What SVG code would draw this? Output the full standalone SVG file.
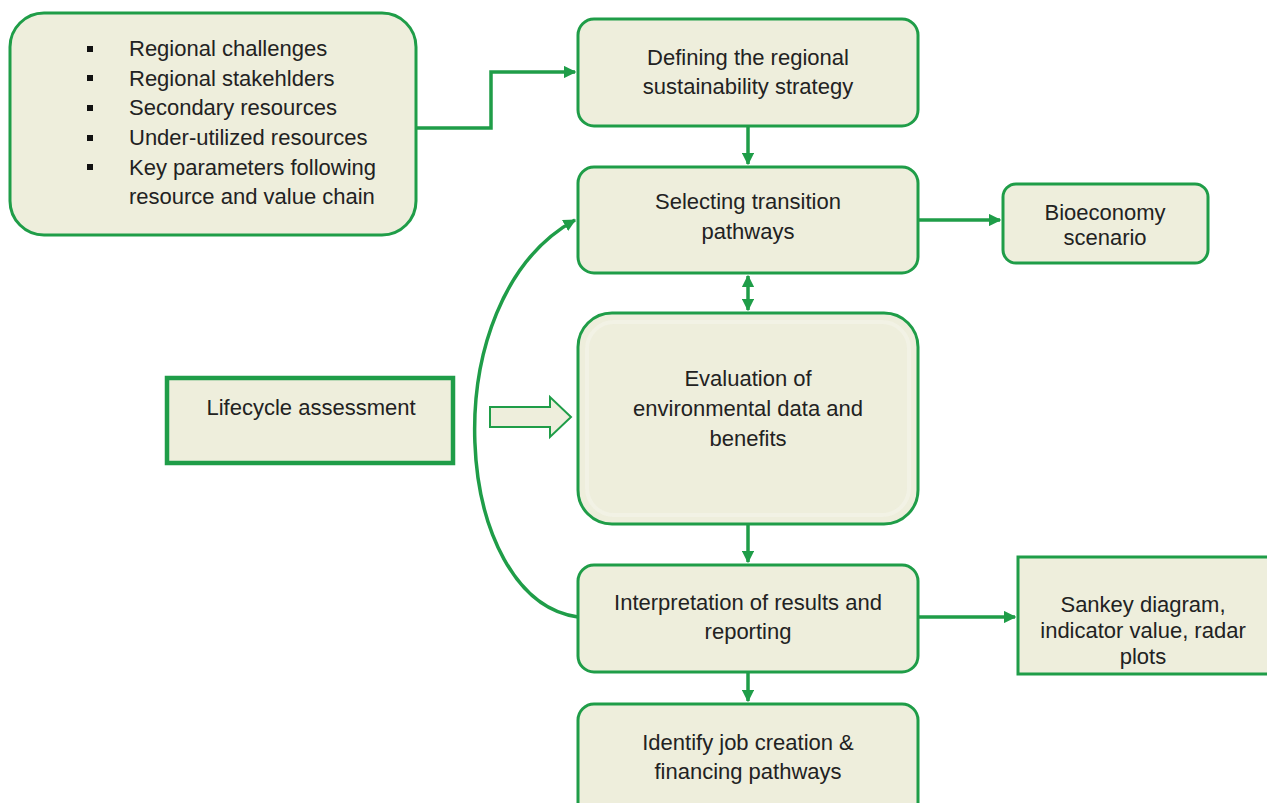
<svg xmlns="http://www.w3.org/2000/svg" width="1267" height="803" viewBox="0 0 1267 803">
  <defs>
    <style>
      .box { fill: #eeeedc; stroke: #1f9d48; stroke-width: 3; }
      .sq { fill: #eeeedc; stroke: #1f9d48; stroke-width: 4.5; }
      .lbl { font-family: "Liberation Sans", Arial, sans-serif; font-size: 22px; fill: #222; }
      .mid { text-anchor: middle; }
      .wire { fill: none; stroke: #1f9d48; stroke-width: 3.5; }
      .bullet { fill: #111; }
    </style>
    <marker id="head" viewBox="0 0 10 10" refX="9" refY="5" markerWidth="3.6" markerHeight="3.6" orient="auto-start-reverse" markerUnits="strokeWidth">
      <path d="M0,0 L10,5 L0,10 Z" fill="#1f9d48"/>
    </marker>
  </defs>

  <rect width="1267" height="803" fill="#ffffff"/>

  <!-- connectors -->
  <g id="connectors">
    <path class="wire" d="M416,128 H491 V72 H575" marker-end="url(#head)"/>
    <path class="wire" d="M748,126 V164" marker-end="url(#head)"/>
    <path class="wire" d="M748,276 V310" marker-start="url(#head)" marker-end="url(#head)"/>
    <path class="wire" d="M918,220 H1000" marker-end="url(#head)"/>
    <path class="wire" d="M748,524 V562" marker-end="url(#head)"/>
    <path class="wire" d="M918,617 H1015" marker-end="url(#head)"/>
    <path class="wire" d="M748,672 V701" marker-end="url(#head)"/>
    <path class="wire" d="M578,617 C452,600 430,300 575,220" marker-end="url(#head)"/>
    <!-- hollow block arrow toward the evaluation step -->
    <path d="M490,407 H550 V397 L571,417 L550,437 V427 H490 Z" fill="#eeeedc" stroke="#1f9d48" stroke-width="2"/>
  </g>

  <g id="inputs">
    <rect class="box" x="10" y="13" width="406" height="222" rx="34"/>
    <rect class="bullet" x="87" y="46" width="6" height="6"/>
    <rect class="bullet" x="87" y="75" width="6" height="6"/>
    <rect class="bullet" x="87" y="105" width="6" height="6"/>
    <rect class="bullet" x="87" y="135" width="6" height="6"/>
    <rect class="bullet" x="87" y="164" width="6" height="6"/>
    <text class="lbl" x="129" y="56">Regional challenges</text>
    <text class="lbl" x="129" y="86">Regional stakehlders</text>
    <text class="lbl" x="129" y="115">Secondary resources</text>
    <text class="lbl" x="129" y="145">Under-utilized resources</text>
    <text class="lbl" x="129" y="175">Key parameters following</text>
    <text class="lbl" x="129" y="204">resource and value chain</text>
  </g>

  <g id="strategy">
    <rect class="box" x="578" y="19" width="340" height="107" rx="16"/>
    <text class="lbl mid" x="748" y="65">Defining the regional</text>
    <text class="lbl mid" x="748" y="94">sustainability strategy</text>
  </g>

  <g id="pathways">
    <rect class="box" x="578" y="167" width="340" height="106" rx="16"/>
    <text class="lbl mid" x="748" y="209">Selecting transition</text>
    <text class="lbl mid" x="748" y="239">pathways</text>
  </g>

  <g id="scenario">
    <rect class="box" x="1003" y="184" width="205" height="79" rx="13"/>
    <text class="lbl mid" x="1105" y="220">Bioeconomy</text>
    <text class="lbl mid" x="1105" y="245">scenario</text>
  </g>

  <g id="lca">
    <rect class="sq" x="167" y="378" width="286" height="85"/>
    <text class="lbl mid" x="311" y="415">Lifecycle assessment</text>
  </g>

  <g id="evaluation">
    <rect class="box" x="578" y="313" width="340" height="211" rx="34"/>
    <rect x="587" y="322" width="322" height="193" rx="27" fill="none" stroke="#f3f3e8" stroke-width="4" opacity="0.7"/>
    <text class="lbl mid" x="748" y="386">Evaluation of</text>
    <text class="lbl mid" x="748" y="416">environmental data and</text>
    <text class="lbl mid" x="748" y="446">benefits</text>
  </g>

  <g id="interpretation">
    <rect class="box" x="578" y="565" width="340" height="107" rx="16"/>
    <text class="lbl mid" x="748" y="610">Interpretation of results and</text>
    <text class="lbl mid" x="748" y="639">reporting</text>
  </g>

  <g id="outputs">
    <rect class="box" x="1018" y="557" width="262" height="117"/>
    <text class="lbl mid" x="1143" y="612">Sankey diagram,</text>
    <text class="lbl mid" x="1143" y="638">indicator value, radar</text>
    <text class="lbl mid" x="1143" y="664">plots</text>
  </g>

  <g id="financing">
    <rect class="box" x="578" y="704" width="340" height="120" rx="16"/>
    <text class="lbl mid" x="748" y="750">Identify job creation &amp;</text>
    <text class="lbl mid" x="748" y="779">financing pathways</text>
  </g>
</svg>
